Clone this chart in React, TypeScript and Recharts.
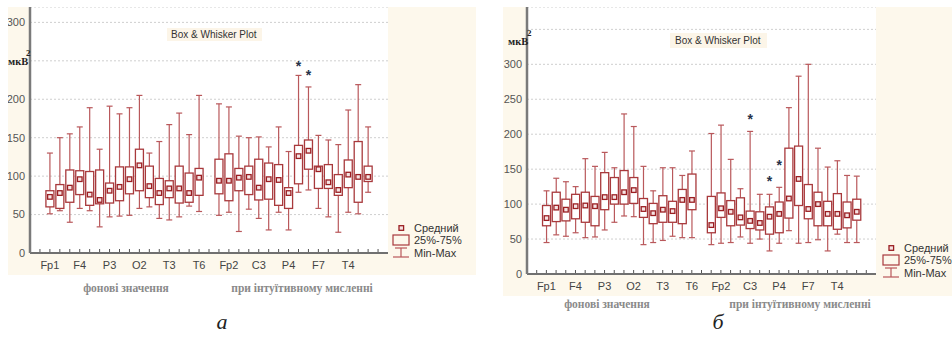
import React from 'react'
import { ComposedChart, Bar, XAxis, YAxis, CartesianGrid } from 'recharts'

// slot 16 is the empty gap between the two groups
const slots = [0, 1, 2, 3, 4, 5, 6, 7, 8, 9, 10, 11, 12, 13, 14, 15, 17, 18, 19, 20, 21, 22, 23, 24, 25, 26, 27, 28, 29, 30, 31, 32]
const labelSlots = [0, 3, 6, 9, 12, 15, 18, 21, 24, 27, 30]
const labelNames = ['Fp1', 'F4', 'P3', 'O2', 'T3', 'T6', 'Fp2', 'C3', 'P4', 'F7', 'T4']

// panel а
const minA = [51, 55, 40, 58, 55, 34, 47, 48, 49, 58, 60, 45, 43, 47, 61, 54, 49, 53, 28, 57, 45, 30, 53, 30, 79, 82, 58, 47, 27, 53, 51, 79]
const q1A = [60, 58, 66, 76, 62, 64, 65, 68, 77, 81, 72, 63, 72, 65, 66, 75, 77, 68, 81, 76, 69, 70, 62, 58, 90, 109, 84, 84, 75, 85, 66, 93]
const meanA = [73, 78, 85, 96, 76, 69, 81, 86, 96, 114, 87, 78, 84, 84, 78, 98, 94, 94, 98, 99, 85, 96, 95, 78, 126, 133, 109, 92, 82, 102, 99, 99]
const q3A = [81, 89, 108, 107, 106, 108, 91, 112, 112, 135, 113, 97, 94, 113, 104, 110, 122, 129, 110, 113, 122, 117, 115, 85, 140, 147, 113, 115, 102, 121, 145, 113]
const maxA = [130, 150, 155, 164, 189, 135, 191, 181, 189, 205, 130, 145, 167, 182, 154, 205, 194, 190, 152, 150, 151, 138, 164, 132, 231, 216, 153, 147, 141, 186, 219, 164]
const outA = [{ slot: 25, value: 247 }, { slot: 26, value: 235 }]

// panel б
const minB = [45, 56, 54, 59, 52, 53, 63, 74, 83, 82, 42, 45, 48, 54, 52, 52, 42, 44, 45, 53, 44, 50, 33, 44, 62, 44, 45, 49, 33, 57, 45, 45]
const q1B = [69, 75, 76, 79, 74, 69, 92, 100, 100, 101, 81, 72, 74, 74, 72, 92, 59, 81, 69, 70, 65, 63, 57, 59, 80, 98, 79, 69, 69, 64, 66, 77]
const meanB = [80, 95, 92, 97, 98, 97, 110, 110, 117, 120, 93, 87, 92, 90, 106, 106, 70, 94, 89, 81, 76, 73, 82, 86, 108, 136, 93, 100, 86, 86, 84, 89]
const q3B = [98, 117, 107, 114, 117, 111, 145, 138, 148, 138, 108, 101, 112, 104, 121, 143, 111, 116, 105, 109, 90, 89, 96, 103, 180, 183, 128, 117, 104, 115, 103, 107]
const maxB = [119, 137, 132, 125, 165, 154, 174, 152, 229, 211, 154, 119, 152, 152, 141, 176, 201, 213, 164, 122, 204, 114, 114, 124, 238, 283, 300, 180, 153, 162, 141, 140]
const outB = [{ slot: 21, value: 226 }, { slot: 23, value: 137 }, { slot: 24, value: 159 }]

const CREAM = '#fdf8ec'
const BOX = '#a8393c'
const WHISKER = '#b9585b'
const MEAN = '#9a1e22'
const SANS = '"Liberation Sans", Arial, sans-serif'
const SERIF = '"Liberation Serif", "Times New Roman", serif'

const xTicks = Array.from({ length: 35 }, (_, i) => i - 1)

function buildRows(min: number[], q1: number[], mean: number[], q3: number[], max: number[], out: { slot: number; value: number }[]) {
  return slots.map((slot, k) => ({
    slot,
    range: [min[k], max[k]],
    min: min[k],
    q1: q1[k],
    mean: mean[k],
    q3: q3[k],
    max: max[k],
    out: out.find((o) => o.slot === slot)?.value,
  }))
}

function BoxShape(props: any) {
  const { x, y, width, height, payload } = props
  if (!payload || !height) return null
  const k = height / (payload.max - payload.min)
  const py = (v: number) => y + (payload.max - v) * k
  const cx = x + width / 2
  const cap = 3
  const m = 2.3
  return (
    <g>
      <line x1={cx} x2={cx} y1={py(payload.max)} y2={py(payload.q3)} stroke={WHISKER} strokeWidth={1.2} />
      <line x1={cx} x2={cx} y1={py(payload.q1)} y2={py(payload.min)} stroke={WHISKER} strokeWidth={1.2} />
      <line x1={cx - cap} x2={cx + cap} y1={py(payload.max)} y2={py(payload.max)} stroke={WHISKER} strokeWidth={1.2} />
      <line x1={cx - cap} x2={cx + cap} y1={py(payload.min)} y2={py(payload.min)} stroke={WHISKER} strokeWidth={1.2} />
      <rect x={x} y={py(payload.q3)} width={width} height={py(payload.q1) - py(payload.q3)} fill="#fff" stroke={BOX} strokeWidth={1.3} />
      <rect x={cx - m} y={py(payload.mean) - m} width={m * 2} height={m * 2} fill="#f6e4e4" stroke={MEAN} strokeWidth={1.3} />
      {payload.out != null && (
        <text x={cx} y={py(payload.out) + 7.5} textAnchor="middle" fontSize={14} fontWeight="bold" fill="#263149" fontFamily={SANS}>*</text>
      )}
    </g>
  )
}

function SlotTick(props: any) {
  const { x, y, payload } = props
  const pos = labelSlots.indexOf(payload.value)
  return (
    <g>
      <line x1={x} x2={x} y1={y - 1} y2={y - 4} stroke="#555" />
      {pos >= 0 && (
        <text x={x} y={y + 16} textAnchor="middle" fontSize={11} fill="#444" fontFamily={SANS}>{labelNames[pos]}</text>
      )}
    </g>
  )
}

interface PanelProps {
  rows: any[]
  yMax: number
  yTicks: number[]
  hideTick: number
  left: number
  top: number
  width: number
  height: number
  yAxisWidth: number
  marginRight: number
}

function BoxPanel({ rows, yMax, yTicks, hideTick, left, top, width, height, yAxisWidth, marginRight }: PanelProps) {
  return (
    <div style={{ position: 'absolute', left, top, width, height, background: CREAM }}>
      <ComposedChart width={width} height={height} data={rows} margin={{ top: 0, right: marginRight, bottom: 0, left: 0 }}>
        <CartesianGrid vertical={false} stroke="#cfcfcf" strokeDasharray="2 2" fill="#ffffff" />
        <XAxis
          dataKey="slot"
          type="number"
          domain={[-2, 34]}
          ticks={xTicks}
          interval={0}
          height={22}
          tickSize={0}
          tickMargin={0}
          tickLine={false}
          tick={(p: any) => <SlotTick {...p} />}
          axisLine={{ stroke: '#707070', strokeWidth: 2 }}
        />
        <YAxis
          domain={[0, yMax]}
          ticks={yTicks}
          interval={0}
          width={yAxisWidth}
          tickSize={0}
          tickMargin={5}
          tickLine={false}
          axisLine={{ stroke: '#7a7a7a', strokeWidth: 2.5 }}
          tick={{ fontSize: 11, fill: '#555', fontFamily: SANS }}
          tickFormatter={(v: number) => (v === hideTick ? '' : String(v))}
        />
        <YAxis
          yAxisId="r"
          orientation="right"
          mirror
          domain={[0, yMax]}
          ticks={yTicks}
          interval={0}
          width={0}
          tickSize={4}
          axisLine={{ stroke: '#9a9a9a' }}
          tickLine={{ stroke: '#9a9a9a' }}
          tick={() => <g />}
        />
        <Bar dataKey="range" barSize={8} isAnimationActive={false} shape={(p: any) => <BoxShape {...p} />} />
      </ComposedChart>
    </div>
  )
}

function LegendBlock({ x, y }: { x: number; y: number }) {
  return (
    <g fontFamily={SANS} fontSize={11} fill="#333">
      <rect x={x + 6} y={y - 2.3} width={4.6} height={4.6} fill="#f6e4e4" stroke={MEAN} strokeWidth={1.3} />
      <text x={x + 21} y={y + 4}>Средний</text>
      <rect x={x} y={y + 7} width={16} height={10} fill="none" stroke={BOX} strokeWidth={1.2} />
      <text x={x + 21} y={y + 16}>25%-75%</text>
      <line x1={x + 2} x2={x + 14} y1={y + 20} y2={y + 20} stroke={WHISKER} strokeWidth={1.2} />
      <line x1={x + 8} x2={x + 8} y1={y + 20} y2={y + 29} stroke={WHISKER} strokeWidth={1.2} />
      <line x1={x} x2={x + 16} y1={y + 29} y2={y + 29} stroke={WHISKER} strokeWidth={1.2} />
      <text x={x + 21} y={y + 29}>Min-Max</text>
    </g>
  )
}

export default function App() {
  const rowsA = buildRows(minA, q1A, meanA, q3A, maxA, outA)
  const rowsB = buildRows(minB, q1B, meanB, q3B, maxB, outB)

  return (
    <div style={{ position: 'absolute', left: 0, top: 0, width: 952, height: 337, background: '#fff', overflow: 'hidden' }}>
      <BoxPanel rows={rowsA} yMax={320} yTicks={[0, 50, 100, 150, 200, 250, 300]} hideTick={250}
        left={8} top={7} width={468} height={268} yAxisWidth={22} marginRight={88} />
      <BoxPanel rows={rowsB} yMax={382} yTicks={[0, 50, 100, 150, 200, 250, 300, 350]} hideTick={350}
        left={503} top={7} width={449} height={289} yAxisWidth={24} marginRight={76} />

      <svg width={952} height={337} style={{ position: 'absolute', left: 0, top: 0, pointerEvents: 'none' }}>
        <rect x={167} y={28} width={95} height={13} fill="#fcf5e8" />
        <text x={171} y={38} fontSize={10} fill="#333" fontFamily={SANS}>Box &amp; Whisker Plot</text>
        <rect x={670} y={33} width={97} height={15} fill="#fcf5e8" />
        <text x={675} y={44} fontSize={10} fill="#333" fontFamily={SANS}>Box &amp; Whisker Plot</text>

        <g fontFamily={SERIF} fontWeight="bold" fill="#222">
          <text x={8} y={65} fontSize={10.5}>мкВ</text>
          <text x={26} y={56} fontSize={9}>2</text>
          <text x={508} y={45} fontSize={10.5}>мкВ</text>
          <text x={527} y={36} fontSize={9}>2</text>
        </g>

        <LegendBlock x={393} y={228} />
        <LegendBlock x={883} y={248} />

        <g fontFamily={SERIF} fontWeight="bold" fontSize={11.5} fill="#8a8a8a" textAnchor="middle">
          <text x={126} y={292}>фонові значення</text>
          <text x={302} y={292}>при інтуїтивному мисленні</text>
          <text x={607} y={308}>фонові значення</text>
          <text x={800} y={308}>при інтуїтивному мисленні</text>
        </g>

        <g fontFamily={SERIF} fontStyle="italic" fontSize={22} fill="#222" textAnchor="middle">
          <text x={222} y={329}>а</text>
          <text x={718} y={329}>б</text>
        </g>
      </svg>
    </div>
  )
}
